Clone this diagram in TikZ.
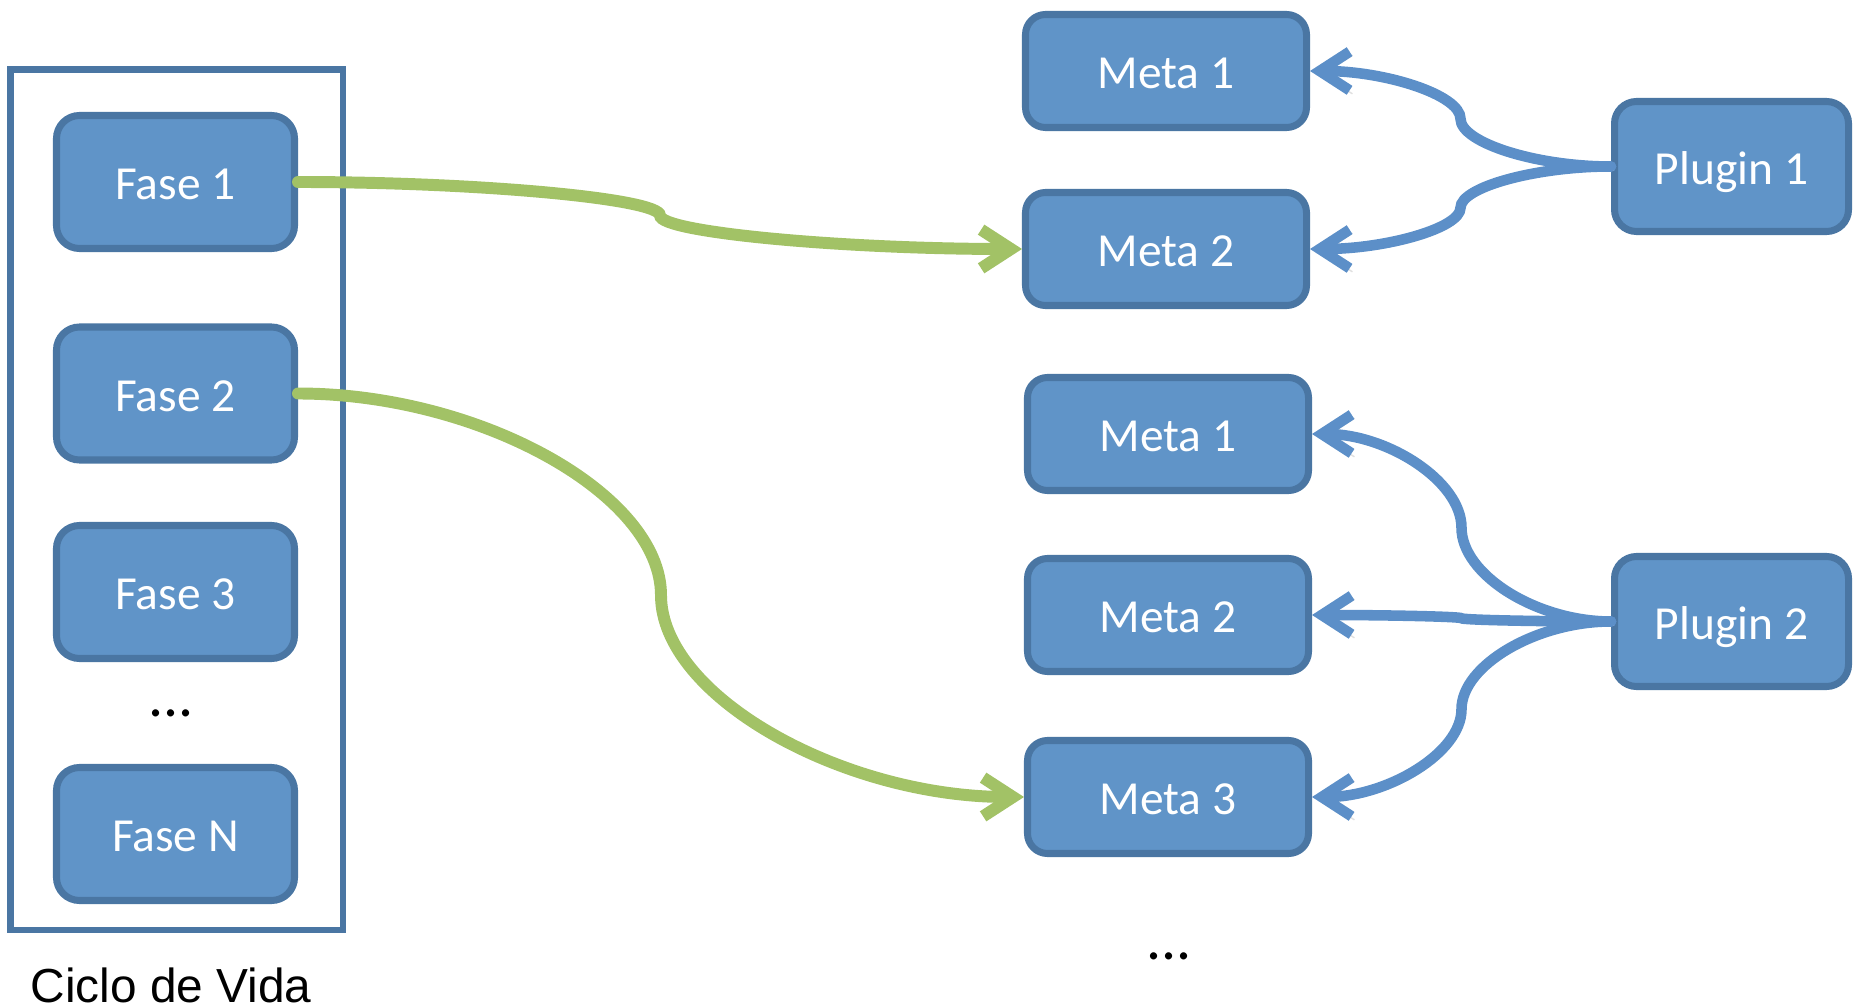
\documentclass[tikz,border=0pt]{standalone}
\usepackage{fontspec}
\setmainfont{Carlito}
\newfontfamily\arialfont{Liberation Sans}
\usepackage{tikz}
\usetikzlibrary{arrows.meta,calc,positioning}

\definecolor{boxfill}{HTML}{6094C8}
\definecolor{boxline}{HTML}{4A76A3}
\definecolor{linkblue}{HTML}{5C8FC8}
\definecolor{linkgreen}{HTML}{A2C266}

\begin{document}
\begin{tikzpicture}
			\tikzstyle{Box}		= [rectangle, draw=boxline, fill=boxfill, line width=2pt, rounded corners=0.2cm, text=white, font=\fontsize{13.5}{16}\selectfont, text height=13pt, text depth=3pt, minimum width=2.81cm, minimum height=1.13cm, inner sep=0pt]
			\tikzstyle{Fase}	= [Box, minimum width=2.38cm, minimum height=1.33cm, rounded corners=0.23cm]
			\tikzstyle{Plugin}	= [Box, minimum width=2.34cm, minimum height=1.30cm, rounded corners=0.22cm]
			\tikzstyle{Conn}	= [to path={let \p1=(\tikztostart), \p2=(\tikztotarget), \p3=($(\tikztostart)!0.5!(\tikztotarget)$), \p4=($(\tikztostart)!0.25!(\tikztotarget)$), \p5=($(\tikztostart)!0.75!(\tikztotarget)$) in .. controls (\x4,\y1) and (\x3,\y4) .. (\p3) .. controls (\x3,\y5) and (\x5,\y2) .. (\tikztotarget) \tikztonodes}]
			\tikzstyle{Shade}	= [preaction={draw=black!12, transform canvas={shift={(0.8pt,-1pt)}}}]
			\tikzstyle{GL}		= [Conn, Shade, line width=3.4pt, draw=linkgreen, line cap=round, -{Straight Barb[length=8.5pt, width=11pt, line width=3.4pt]}]
			\tikzstyle{BL}		= [Conn, Shade, line width=3pt, draw=linkblue, line cap=round, -{Straight Barb[length=8.5pt, width=11pt, line width=3pt]}]
			\tikzstyle{Dots}	= [anchor=base, font=\fontsize{17}{20}\selectfont]

			\useasboundingbox (0,0) rectangle (18.53,-10.08);

			\draw [boxline, line width=1.8pt] (0.105,-0.695) rectangle (3.43,-9.30);

			\node (f1) at (1.755, -1.82) [Fase] {Fase 1};
			\node (f2) at (1.755, -3.935) [Fase] {Fase 2};
			\node (f3) at (1.755, -5.92) [Fase] {Fase 3};
			\node (fd) at (1.71, -7.16) [Dots] {...};
			\node (fn) at (1.755, -8.34) [Fase] {Fase N};
			\node (cv) at (1.71, -10.02) [anchor=base, font=\arialfont\fontsize{13.6}{16}\selectfont] {Ciclo de Vida};

			\node (ma1) at (11.66, -0.71) [Box] {Meta 1};
			\node (ma2) at (11.66, -2.49) [Box] {Meta 2};
			\node (mb1) at (11.68, -4.34) [Box] {Meta 1};
			\node (mb2) at (11.68, -6.15) [Box] {Meta 2};
			\node (mb3) at (11.68, -7.97) [Box] {Meta 3};
			\node (md) at (11.69, -9.59) [Dots] {...};

			\node (p1) at (17.315, -1.665) [Plugin] {Plugin 1};
			\node (p2) at (17.315, -6.215) [Plugin] {Plugin 2};

			\draw [GL] (f1.east) to (ma2.west);
			\draw [GL] (f2.east) to (mb3.west);

			\draw [BL] (p1.west) to (ma1.east);
			\draw [BL] (p1.west) to (ma2.east);
			\draw [BL] (p2.west) to (mb1.east);
			\draw [BL] (p2.west) to (mb2.east);
			\draw [BL] (p2.west) to (mb3.east);
		\end{tikzpicture}
\end{document}
